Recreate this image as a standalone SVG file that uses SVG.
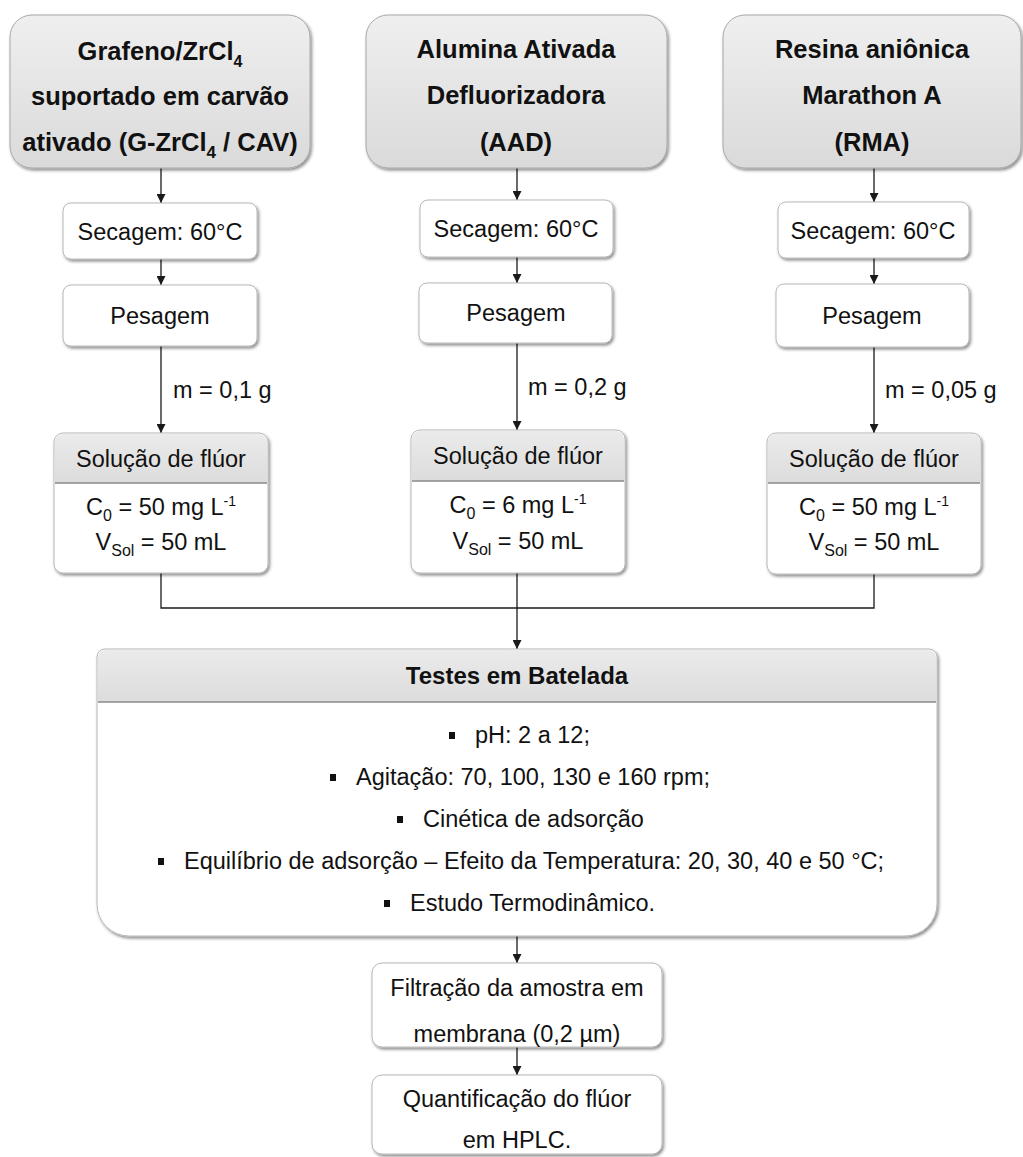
<svg xmlns="http://www.w3.org/2000/svg" width="1023" height="1157" viewBox="0 0 1023 1157">
  <defs>
    <linearGradient id="gTop" x1="0" y1="0" x2="0" y2="1">
      <stop offset="0" stop-color="#efefef"/>
      <stop offset="1" stop-color="#dadada"/>
    </linearGradient>
    <linearGradient id="gHead" x1="0" y1="0" x2="0" y2="1">
      <stop offset="0" stop-color="#ebebeb"/>
      <stop offset="1" stop-color="#dcdcdc"/>
    </linearGradient>
    <filter id="shadow" x="-5%" y="-5%" width="115%" height="120%">
      <feDropShadow dx="1.5" dy="2" stdDeviation="1.4" flood-color="#000" flood-opacity="0.45"/>
    </filter>
    <marker id="arrow" viewBox="0 0 10 10" refX="10" refY="5" markerWidth="9" markerHeight="9" markerUnits="userSpaceOnUse" orient="auto">
      <path d="M0,0 L10,5 L0,10 z" fill="#1a1a1a"/>
    </marker>
    <style>
      .title { font-family: "Liberation Sans", Arial, sans-serif; font-weight: bold; font-size: 25.5px; fill: #111; text-anchor: middle; }
      .txt { font-family: "Liberation Sans", Arial, sans-serif; font-size: 23.5px; fill: #111; text-anchor: middle; }
      .lbl { font-family: "Liberation Sans", Arial, sans-serif; font-size: 23.5px; fill: #111; }
      .head { font-family: "Liberation Sans", Arial, sans-serif; font-weight: bold; font-size: 24px; fill: #111; text-anchor: middle; }
      .bigbox { fill: url(#gTop); stroke: #a8a8a8; stroke-width: 1; filter: url(#shadow); }
      .box { fill: #fff; stroke: #b8b8b8; stroke-width: 1; filter: url(#shadow); }
      .hdr { fill: url(#gHead); }
      .sep { stroke: #8a8a8a; stroke-width: 1.5; }
      .link { fill: none; stroke: #1a1a1a; stroke-width: 1.3; }
      .bullet { fill: #111; }
      .sub { font-size: 16px; }
    </style>
  </defs>

  <rect width="1023" height="1157" fill="#fff"/>

  <!-- connectors -->
  <g id="connectors">
    <path class="link" d="M161,168 V203" marker-end="url(#arrow)"/>
    <path class="link" d="M161,259 V285" marker-end="url(#arrow)"/>
    <path class="link" d="M161,346 V433" marker-end="url(#arrow)"/>
    <path class="link" d="M517,168 V200" marker-end="url(#arrow)"/>
    <path class="link" d="M517,257 V283" marker-end="url(#arrow)"/>
    <path class="link" d="M517,343 V430" marker-end="url(#arrow)"/>
    <path class="link" d="M874,168 V202" marker-end="url(#arrow)"/>
    <path class="link" d="M874,258 V284" marker-end="url(#arrow)"/>
    <path class="link" d="M874,347 V433" marker-end="url(#arrow)"/>
    <path class="link" d="M161,573 V608 H874 V574"/>
    <path class="link" d="M517,573 V649" marker-end="url(#arrow)"/>
    <path class="link" d="M517,936 V963" marker-end="url(#arrow)"/>
    <path class="link" d="M517,1047 V1075" marker-end="url(#arrow)"/>
    <text class="lbl" x="173" y="398">m = 0,1 g</text>
    <text class="lbl" x="528" y="395">m = 0,2 g</text>
    <text class="lbl" x="885" y="398">m = 0,05 g</text>
  </g>

  <!-- column 1 -->
  <g id="node-gzrcl4">
    <rect class="bigbox" x="10" y="15" width="300" height="153" rx="22"/>
    <text class="title" x="160" y="60">Grafeno/ZrCl<tspan class="sub" dy="7" font-size="17">4</tspan></text>
    <text class="title" x="160" y="105">suportado em carvão</text>
    <text class="title" x="160" y="151">ativado (G-ZrCl<tspan dy="7" font-size="17">4</tspan><tspan dy="-7"> / CAV)</tspan></text>
  </g>
  <g id="node-secagem-1">
    <rect class="box" x="63" y="203" width="194" height="56" rx="8"/>
    <text class="txt" x="160" y="240">Secagem: 60°C</text>
  </g>
  <g id="node-pesagem-1">
    <rect class="box" x="63" y="285" width="194" height="61" rx="8"/>
    <text class="txt" x="160" y="324">Pesagem</text>
  </g>
  <g id="node-solucao-1">
    <rect class="box" x="54" y="433" width="214" height="140" rx="9"/>
    <path class="hdr" d="M63,434 H259 A8,8 0 0 1 267,442 V483 H55 V442 A8,8 0 0 1 63,434 Z"/>
    <line class="sep" x1="55" y1="483" x2="267" y2="483"/>
    <text class="txt" x="161" y="467">Solução de flúor</text>
    <text class="txt" x="161" y="515">C<tspan dy="6" font-size="16">0</tspan><tspan dy="-6"> = 50 mg L</tspan><tspan dy="-9" font-size="14">-1</tspan></text>
    <text class="txt" x="161" y="550">V<tspan dy="6" font-size="16">Sol</tspan><tspan dy="-6"> = 50 mL</tspan></text>
  </g>

  <!-- column 2 -->
  <g id="node-aad">
    <rect class="bigbox" x="366" y="15" width="301" height="153" rx="22"/>
    <text class="title" x="516" y="58">Alumina Ativada</text>
    <text class="title" x="516" y="104">Defluorizadora</text>
    <text class="title" x="516" y="151">(AAD)</text>
  </g>
  <g id="node-secagem-2">
    <rect class="box" x="420" y="200" width="193" height="57" rx="8"/>
    <text class="txt" x="516" y="237">Secagem: 60°C</text>
  </g>
  <g id="node-pesagem-2">
    <rect class="box" x="419" y="283" width="193" height="60" rx="8"/>
    <text class="txt" x="516" y="321">Pesagem</text>
  </g>
  <g id="node-solucao-2">
    <rect class="box" x="411" y="430" width="214" height="143" rx="9"/>
    <path class="hdr" d="M420,431 H616 A8,8 0 0 1 624,439 V481 H412 V439 A8,8 0 0 1 420,431 Z"/>
    <line class="sep" x1="412" y1="481" x2="624" y2="481"/>
    <text class="txt" x="518" y="464">Solução de flúor</text>
    <text class="txt" x="518" y="513">C<tspan dy="6" font-size="16">0</tspan><tspan dy="-6"> = 6 mg L</tspan><tspan dy="-9" font-size="14">-1</tspan></text>
    <text class="txt" x="518" y="549">V<tspan dy="6" font-size="16">Sol</tspan><tspan dy="-6"> = 50 mL</tspan></text>
  </g>

  <!-- column 3 -->
  <g id="node-rma">
    <rect class="bigbox" x="723" y="15" width="298" height="153" rx="22"/>
    <text class="title" x="872" y="58">Resina aniônica</text>
    <text class="title" x="872" y="104">Marathon A</text>
    <text class="title" x="872" y="151">(RMA)</text>
  </g>
  <g id="node-secagem-3">
    <rect class="box" x="778" y="202" width="191" height="56" rx="8"/>
    <text class="txt" x="873" y="239">Secagem: 60°C</text>
  </g>
  <g id="node-pesagem-3">
    <rect class="box" x="776" y="284" width="193" height="63" rx="8"/>
    <text class="txt" x="872" y="324">Pesagem</text>
  </g>
  <g id="node-solucao-3">
    <rect class="box" x="767" y="433" width="214" height="141" rx="9"/>
    <path class="hdr" d="M776,434 H972 A8,8 0 0 1 980,442 V483 H768 V442 A8,8 0 0 1 776,434 Z"/>
    <line class="sep" x1="768" y1="483" x2="980" y2="483"/>
    <text class="txt" x="874" y="467">Solução de flúor</text>
    <text class="txt" x="874" y="515">C<tspan dy="6" font-size="16">0</tspan><tspan dy="-6"> = 50 mg L</tspan><tspan dy="-9" font-size="14">-1</tspan></text>
    <text class="txt" x="874" y="550">V<tspan dy="6" font-size="16">Sol</tspan><tspan dy="-6"> = 50 mL</tspan></text>
  </g>

  <!-- batch tests -->
  <g id="node-testes">
    <path class="box" d="M105,649 H929 A8,8 0 0 1 937,657 V904 A32,32 0 0 1 905,936 H129 A32,32 0 0 1 97,904 V657 A8,8 0 0 1 105,649 Z"/>
    <path class="hdr" d="M105,650 H929 A7,7 0 0 1 936,657 V702 H98 V657 A7,7 0 0 1 105,650 Z"/>
    <line class="sep" x1="98" y1="702" x2="936" y2="702"/>
    <text class="head" x="517" y="684">Testes em Batelada</text>
    <rect class="bullet" x="449" y="732" width="6" height="7"/>
    <text class="lbl" x="475" y="743">pH: 2 a 12;</text>
    <rect class="bullet" x="330" y="774" width="6" height="7"/>
    <text class="lbl" x="356" y="785">Agitação: 70, 100, 130 e 160 rpm;</text>
    <rect class="bullet" x="397" y="816" width="6" height="7"/>
    <text class="lbl" x="423" y="827">Cinética de adsorção</text>
    <rect class="bullet" x="158" y="858" width="6" height="7"/>
    <text class="lbl" x="184" y="869">Equilíbrio de adsorção – Efeito da Temperatura: 20, 30, 40 e 50 °C;</text>
    <rect class="bullet" x="384" y="900" width="6" height="7"/>
    <text class="lbl" x="410" y="911">Estudo Termodinâmico.</text>
  </g>

  <g id="node-filtracao">
    <rect class="box" x="372" y="963" width="290" height="84" rx="10"/>
    <text class="txt" x="517" y="996">Filtração da amostra em</text>
    <text class="txt" x="517" y="1042">membrana (0,2 µm)</text>
  </g>
  <g id="node-quantificacao">
    <rect class="box" x="372" y="1075" width="290" height="79" rx="10"/>
    <text class="txt" x="517" y="1107">Quantificação do flúor</text>
    <text class="txt" x="517" y="1148">em HPLC.</text>
  </g>
</svg>
